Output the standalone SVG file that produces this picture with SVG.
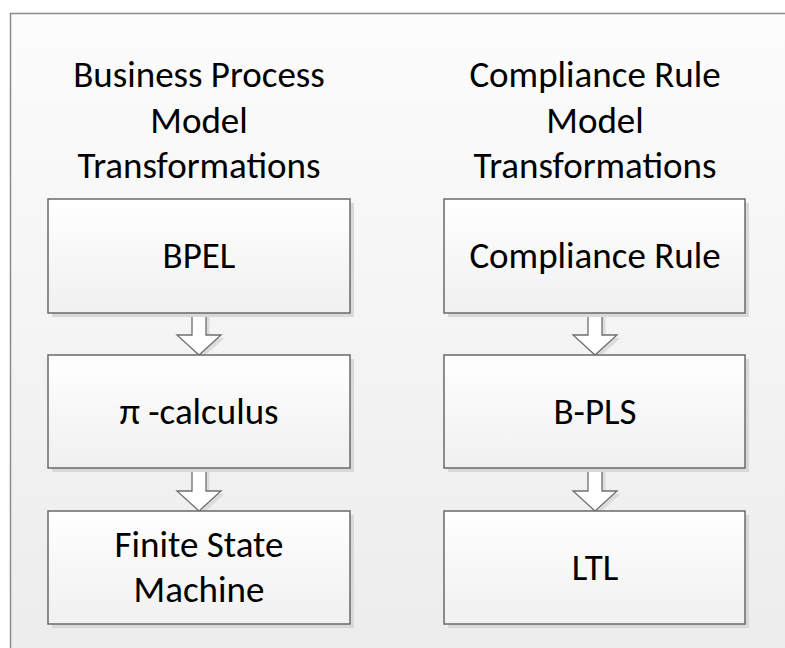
<svg xmlns="http://www.w3.org/2000/svg" width="785" height="648" viewBox="0 0 785 648">
<defs>
<linearGradient id="bg" x1="0" y1="0" x2="0" y2="1">
<stop offset="0" stop-color="#fcfcfc"/>
<stop offset="1" stop-color="#ececec"/>
</linearGradient>
<linearGradient id="bx" x1="0" y1="0" x2="0" y2="1">
<stop offset="0" stop-color="#ffffff"/>
<stop offset="1" stop-color="#f0f0f0"/>
</linearGradient>
<style>
.box{fill:url(#bx);stroke:#6a6a6a;stroke-width:1.5}
.sh{fill:#d9d9d9}
.arr{fill:#ffffff;stroke:#6f6f6f;stroke-width:1.3;stroke-linejoin:miter}
.ash{fill:#dcdcdc}
.t{font-family:Carlito,Calibri,"Liberation Sans",sans-serif;font-size:37px;fill:#000;text-anchor:middle}
</style>
</defs>
<rect x="0" y="0" width="785" height="648" fill="#ffffff"/>
<rect x="10.5" y="13.5" width="790" height="650" fill="url(#bg)" stroke="#8c8c8c" stroke-width="1.5"/>

<g id="title-left">
<text class="t" x="199" y="87">Business Process</text>
<text class="t" x="199" y="133">Model</text>
<text class="t" x="199" y="178">Transformations</text>
</g>
<g id="title-right">
<text class="t" x="595" y="87">Compliance Rule</text>
<text class="t" x="595" y="133">Model</text>
<text class="t" x="595" y="178">Transformations</text>
</g>

<g id="connectors">
<path class="ash" d="M195.5 316 H209.5 V338 H224.5 L202.5 358 L180.5 338 H195.5 Z"/>
<path class="arr" d="M192 313 H206 V335 H221 L199 355 L177 335 H192 Z"/>
<path class="ash" d="M195.5 471 H209.5 V494 H224.5 L202.5 514 L180.5 494 H195.5 Z"/>
<path class="arr" d="M192 468 H206 V491 H221 L199 511 L177 491 H192 Z"/>
<path class="ash" d="M591.5 316 H605.5 V338 H620.5 L598.5 358 L576.5 338 H591.5 Z"/>
<path class="arr" d="M588 313 H602 V335 H617 L595 355 L573 335 H588 Z"/>
<path class="ash" d="M591.5 471 H605.5 V494 H620.5 L598.5 514 L576.5 494 H591.5 Z"/>
<path class="arr" d="M588 468 H602 V491 H617 L595 511 L573 491 H588 Z"/>
</g>

<g id="bpel">
<rect class="sh" x="52" y="203" width="302" height="114"/>
<rect class="box" x="48" y="199" width="302" height="114"/>
<text class="t" x="199" y="268">BPEL</text>
</g>
<g id="pi-calculus">
<rect class="sh" x="52" y="359" width="302" height="113"/>
<rect class="box" x="48" y="355" width="302" height="113"/>
<text class="t" x="199" y="424">π -calculus</text>
</g>
<g id="fsm">
<rect class="sh" x="52" y="515" width="302" height="113"/>
<rect class="box" x="48" y="511" width="302" height="113"/>
<text class="t" x="199" y="557">Finite State</text>
<text class="t" x="199" y="602">Machine</text>
</g>
<g id="compliance-rule">
<rect class="sh" x="448" y="203" width="301" height="114"/>
<rect class="box" x="444" y="199" width="301" height="114"/>
<text class="t" x="595" y="268">Compliance Rule</text>
</g>
<g id="b-pls">
<rect class="sh" x="448" y="359" width="301" height="113"/>
<rect class="box" x="444" y="355" width="301" height="113"/>
<text class="t" x="595" y="424">B-PLS</text>
</g>
<g id="ltl">
<rect class="sh" x="448" y="515" width="301" height="113"/>
<rect class="box" x="444" y="511" width="301" height="113"/>
<text class="t" x="595" y="580">LTL</text>
</g>
</svg>
